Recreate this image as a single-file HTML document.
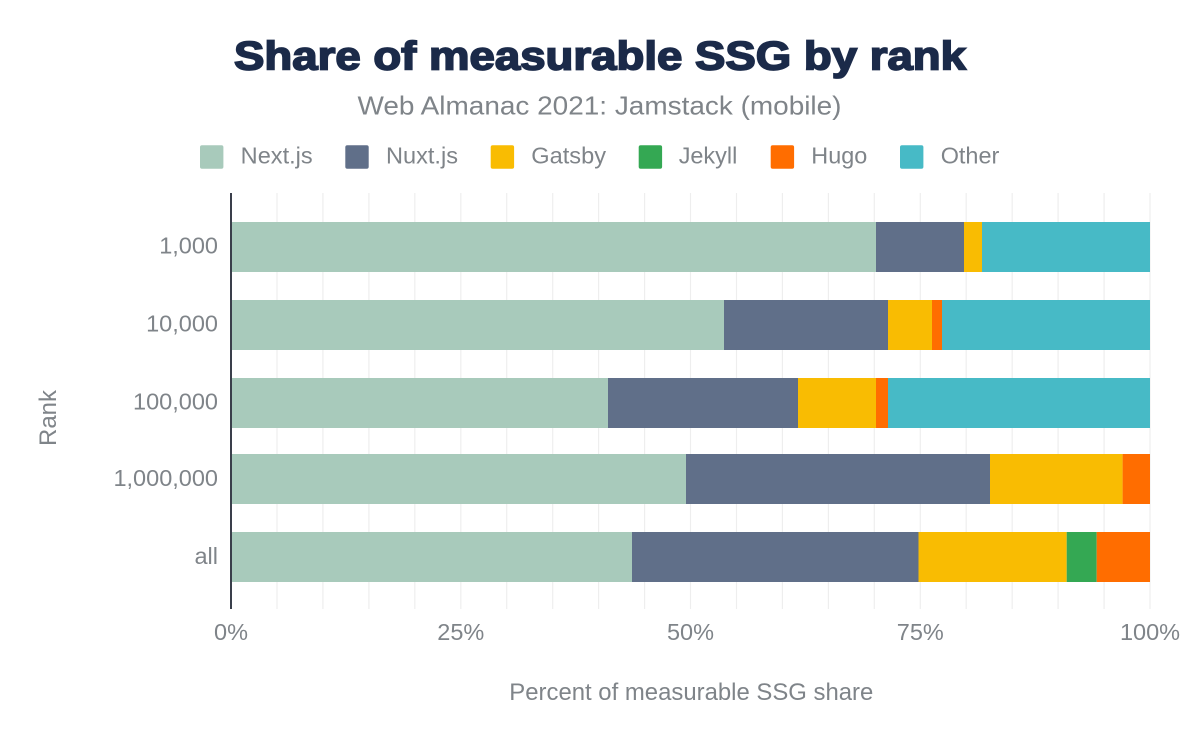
<!DOCTYPE html>
<html>
<head>
<meta charset="utf-8">
<style>
html,body{margin:0;padding:0;background:#fff;}
svg{display:block;}
text{font-family:"Liberation Sans",Arial,sans-serif;}
</style>
</head>
<body>
<svg width="1200" height="742" viewBox="0 0 1200 742" xmlns="http://www.w3.org/2000/svg">
  <rect width="1200" height="742" fill="#fff"/>
  <!-- Title -->
  <text x="234" y="69.3" font-size="40" font-weight="bold" fill="#1b2a49" stroke="#1b2a49" stroke-width="1.7" textLength="732" lengthAdjust="spacingAndGlyphs">Share of measurable SSG by rank</text>
  <text x="357.5" y="114.3" font-size="26" fill="#7f8489" textLength="484" lengthAdjust="spacingAndGlyphs">Web Almanac 2021: Jamstack (mobile)</text>

  <!-- Legend -->
  <g font-size="23.5" fill="#7f8489">
    <rect x="200" y="145.3" width="23.4" height="23.4" rx="2" fill="#a8cabb"/>
    <text x="240.7" y="163.3" textLength="72" lengthAdjust="spacingAndGlyphs">Next.js</text>
    <rect x="345.3" y="145.3" width="23.4" height="23.4" rx="2" fill="#606f89"/>
    <text x="386" y="163.3" textLength="72" lengthAdjust="spacingAndGlyphs">Nuxt.js</text>
    <rect x="490.7" y="145.3" width="23.4" height="23.4" rx="2" fill="#f9bc02"/>
    <text x="531.3" y="163.3" textLength="74.7" lengthAdjust="spacingAndGlyphs">Gatsby</text>
    <rect x="638.7" y="145.3" width="23.4" height="23.4" rx="2" fill="#34a853"/>
    <text x="678.7" y="163.3" textLength="58.6" lengthAdjust="spacingAndGlyphs">Jekyll</text>
    <rect x="770.7" y="145.3" width="23.4" height="23.4" rx="2" fill="#ff6d00"/>
    <text x="811.3" y="163.3" textLength="56" lengthAdjust="spacingAndGlyphs">Hugo</text>
    <rect x="900" y="145.3" width="23.4" height="23.4" rx="2" fill="#47bac6"/>
    <text x="940.7" y="163.3" textLength="58.6" lengthAdjust="spacingAndGlyphs">Other</text>
  </g>

  <!-- Gridlines -->
  <g stroke="#eeeeee" stroke-width="1.2">
    <line x1="277" y1="193" x2="277" y2="609"/>
    <line x1="322.9" y1="193" x2="322.9" y2="609"/>
    <line x1="368.9" y1="193" x2="368.9" y2="609"/>
    <line x1="414.8" y1="193" x2="414.8" y2="609"/>
    <line x1="460.8" y1="193" x2="460.8" y2="609"/>
    <line x1="506.7" y1="193" x2="506.7" y2="609"/>
    <line x1="552.7" y1="193" x2="552.7" y2="609"/>
    <line x1="598.6" y1="193" x2="598.6" y2="609"/>
    <line x1="644.6" y1="193" x2="644.6" y2="609"/>
    <line x1="690.5" y1="193" x2="690.5" y2="609"/>
    <line x1="736.5" y1="193" x2="736.5" y2="609"/>
    <line x1="782.4" y1="193" x2="782.4" y2="609"/>
    <line x1="828.4" y1="193" x2="828.4" y2="609"/>
    <line x1="874.3" y1="193" x2="874.3" y2="609"/>
    <line x1="920.3" y1="193" x2="920.3" y2="609"/>
    <line x1="966.2" y1="193" x2="966.2" y2="609"/>
    <line x1="1012.2" y1="193" x2="1012.2" y2="609"/>
    <line x1="1058.1" y1="193" x2="1058.1" y2="609"/>
    <line x1="1104.1" y1="193" x2="1104.1" y2="609"/>
    <line x1="1150" y1="193" x2="1150" y2="609"/>
  </g>

  <!-- Row 1: 1,000 -->
  <rect x="231" y="222" width="645" height="50" fill="#a8cabb"/>
  <rect x="876" y="222" width="88" height="50" fill="#606f89"/>
  <rect x="964" y="222" width="18" height="50" fill="#f9bc02"/>
  <rect x="982" y="222" width="168" height="50" fill="#47bac6"/>

  <!-- Row 2: 10,000 -->
  <rect x="231" y="300" width="493" height="50" fill="#a8cabb"/>
  <rect x="724" y="300" width="164" height="50" fill="#606f89"/>
  <rect x="888" y="300" width="44" height="50" fill="#f9bc02"/>
  <rect x="932" y="300" width="10" height="50" fill="#ff6d00"/>
  <rect x="942" y="300" width="208" height="50" fill="#47bac6"/>

  <!-- Row 3: 100,000 -->
  <rect x="231" y="378" width="377" height="50" fill="#a8cabb"/>
  <rect x="608" y="378" width="190" height="50" fill="#606f89"/>
  <rect x="798" y="378" width="78" height="50" fill="#f9bc02"/>
  <rect x="876" y="378" width="12" height="50" fill="#ff6d00"/>
  <rect x="888" y="378" width="262" height="50" fill="#47bac6"/>

  <!-- Row 4: 1,000,000 -->
  <rect x="231" y="454" width="455" height="50" fill="#a8cabb"/>
  <rect x="686" y="454" width="304" height="50" fill="#606f89"/>
  <rect x="990" y="454" width="132.6" height="50" fill="#f9bc02"/>
  <rect x="1122.6" y="454" width="27.4" height="50" fill="#ff6d00"/>

  <!-- Row 5: all -->
  <rect x="231" y="532" width="401" height="50" fill="#a8cabb"/>
  <rect x="632" y="532" width="286.5" height="50" fill="#606f89"/>
  <rect x="918.5" y="532" width="148.2" height="50" fill="#f9bc02"/>
  <rect x="1066.7" y="532" width="30" height="50" fill="#34a853"/>
  <rect x="1096.7" y="532" width="53.3" height="50" fill="#ff6d00"/>

  <!-- Y axis line -->
  <line x1="231" y1="193" x2="231" y2="609" stroke="#3a3f4b" stroke-width="2"/>

  <!-- Y labels -->
  <g font-size="23.5" fill="#7f8489" text-anchor="end">
    <text x="218" y="253.5">1,000</text>
    <text x="218" y="331.5">10,000</text>
    <text x="218" y="409.5">100,000</text>
    <text x="218" y="486">1,000,000</text>
    <text x="218" y="564">all</text>
  </g>
  <text transform="translate(56,418) rotate(-90)" font-size="24" fill="#7f8489" text-anchor="middle">Rank</text>

  <!-- X labels -->
  <g font-size="23.5" fill="#7f8489" text-anchor="middle">
    <text x="231" y="640">0%</text>
    <text x="460.8" y="640">25%</text>
    <text x="690.5" y="640">50%</text>
    <text x="920.3" y="640">75%</text>
    <text x="1150" y="640">100%</text>
  </g>
  <text x="509.3" y="700" font-size="24" fill="#7f8489" textLength="364" lengthAdjust="spacingAndGlyphs">Percent of measurable SSG share</text>
</svg>
</body>
</html>
